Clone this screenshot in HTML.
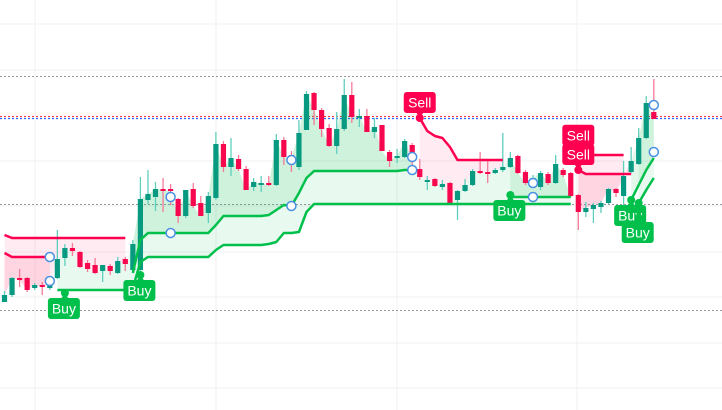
<!DOCTYPE html>
<html><head><meta charset="utf-8">
<style>
html,body{margin:0;padding:0;background:#fff;}
svg{display:block;font-family:"Liberation Sans",sans-serif;}
</style></head>
<body>
<svg id="chart" width="722" height="410" viewBox="0 0 722 410" xmlns="http://www.w3.org/2000/svg">
  <g id="grid"></g>
  <g id="fills"></g>
  <g id="candles"></g>
  <g id="lines"></g>
  <g id="markers"></g>
  <g id="signals"></g>
</svg>
<script>
// ---- data (price units) ----
const opens  = [108,115,132,132,122,125,122,132,152,162,158,147,145,139,144,137,151,140,140,210,213,221,221,211,194,221,207,197,212,266,243,251,241,223,225,227,225,270,255,243,280,317,300,282,264,281,315,293,294,278,285,258,252,253,265,241,229,231,223,227,210,219,225,239,238,237,240,243,254,238,228,223,236,227,240,237,215,198,201,203,207,221,214,238,246,272,298];
const closes = [115,132,130,120,125,123,126,151,162,159,143,141,137,145,139,149,146,166,211,216,221,220,219,194,220,204,194,214,266,243,252,241,220,228,227,225,270,253,252,277,316,300,281,264,281,315,293,294,278,283,259,249,254,269,252,233,230,224,226,207,219,225,239,237,236,240,243,252,237,227,232,237,227,246,235,214,198,202,205,207,221,217,234,249,272,307,291];
const highs  = [119,133,141,133,127,128,130,180,166,167,159,150,152,145,146,153,153,170,233,240,228,232,226,212,220,227,214,218,278,269,272,255,244,232,234,234,276,273,259,290,319,318,302,286,298,331,328,301,301,292,285,260,261,271,267,251,234,232,230,228,220,231,241,258,249,242,277,258,255,240,235,239,238,255,242,238,216,208,207,209,222,222,249,263,282,314,331];
const lows   = [108,113,123,118,120,115,120,131,144,154,142,138,136,128,135,136,139,138,138,206,199,198,205,187,192,202,194,187,210,238,234,239,220,219,218,224,224,245,238,240,280,285,273,263,256,279,287,283,278,272,259,243,247,252,245,230,220,223,220,207,190,218,224,236,227,236,238,242,236,225,224,220,225,226,233,213,180,193,187,197,206,213,205,237,245,271,291];
// supertrend (tight/upper) — green and red segments
const upperGreen = [null,null,null,null,null,null,null,null,null,null,null,null,null,null,null,null,null,137,170,177,177,177,177,177,177,177,177,177,185,194,194,194,194,194,194,195,200,205,204,217,232,239,239,239,239,239,239,239,239,239,239,239,239,240,240,null,null,null,null,null,null,null,null,null,null,null,null,213,213,213,213,213,213,213,213,213,null,null,null,null,null,null,null,210,225,240,252];
const upperRed   = [175,172,172,172,172,172,172,172,172,172,172,172,172,172,172,172,172,null,null,null,null,null,null,null,null,null,null,null,null,null,null,null,null,null,null,null,null,null,null,null,null,null,null,null,null,null,null,null,null,null,null,null,null,null,null,292,279,274,272,263,250,250,250,250,250,250,250,null,null,null,null,null,null,null,null,null,255,255,255,255,255,255,255,null,null,null,null];
// supertrend (wide/lower)
const lowerGreen = [null,null,null,null,null,null,null,120,120,120,120,120,120,120,120,120,120,122,148,153,153,153,153,153,153,153,153,153,160,165,165,165,165,165,165,166,168,177,177,178,198,206,206,206,206,206,206,206,206,206,206,206,206,206,206,206,206,206,206,206,206,206,206,206,206,206,206,206,206,206,206,206,206,206,206,206,null,null,null,null,null,null,null,null,207,220,232];
const lowerRed   = [157,153,153,153,153,153,153,null,null,null,null,null,null,null,null,null,null,null,null,null,null,null,null,null,null,null,null,null,null,null,null,null,null,null,null,null,null,null,null,null,null,null,null,null,null,null,null,null,null,null,null,null,null,null,null,null,null,null,null,null,null,null,null,null,null,null,null,null,null,null,null,null,null,null,null,null,240,236,236,236,236,236,236,236,null,null,null];
// circle markers
const markerIdx   = [6,6,22,22,38,38,54,54,70,70,86,86];
const markerPrice = [153,129,213,177,250,204,253,240,227,213,305,258];
// signals
const signalIdx   = [8,18,55,67,76,76,83,84];
const signalPrice = [117,135,292,215,255,240,210,207];
const signalType  = ["Buy","Buy","Sell","Buy","Sell","Sell","Buy","Buy"];
const signalStack = [0,0,0,0,0.3,0,0,1];
// horizontal reference lines
const refPrices = [334,206,100];
const lastPrice = 294;
const lastPrice2 = 292;

// ---- scales ----
const xScale = i => 4.5 + i*7.55;
const yScale = p => 410 - p;
const NS = "http://www.w3.org/2000/svg";
function mk(tag, attrs, parent){const e=document.createElementNS(NS,tag);for(const k in attrs)e.setAttribute(k,attrs[k]);parent.appendChild(e);return e;}

const grid = document.getElementById('grid');
[24,70,115,161,206,252,297,343,388].forEach(y=>{
  const l=mk('line',{x1:0,x2:722,y1:y,y2:y,stroke:'#f0f1f3','stroke-width':1},grid);
  
  
});
[35,216,397,577].forEach(x=>{
  const l=mk('line',{x1:x,x2:x,y1:0,y2:410,stroke:'#f0f1f3','stroke-width':1},grid);
  
  
});
refPrices.forEach(p=>{
  const l=mk('line',{x1:0,x2:722,y1:yScale(p)+0.5,y2:yScale(p)+0.5,stroke:'#9598a1','stroke-width':1,'stroke-dasharray':'2,2'},grid);
  
  
});
{
  const l=mk('line',{x1:0,x2:722,y1:yScale(lastPrice)+0.5,y2:yScale(lastPrice)+0.5,stroke:'#f23645','stroke-width':1,'stroke-dasharray':'2,2'},grid);
  
  
  const b=mk('line',{x1:0,x2:722,y1:yScale(lastPrice2)+0.5,y2:yScale(lastPrice2)+0.5,stroke:'#2962ff','stroke-width':1.3,'stroke-dasharray':'2,2'},grid);
  
  
}

// ---- fills & lines ----
const fills=document.getElementById('fills'), lines=document.getElementById('lines');
function runs(arr){const r=[];let cur=null;arr.forEach((v,i)=>{if(v==null){cur=null;return;}if(!cur){cur=[];r.push(cur);}cur.push(i);});return r;}
function drawSeries(arr,lineColor,fillColor,name){
  runs(arr).forEach(run=>{
    let pts=run.map(i=>xScale(i)+','+yScale(arr[i]));
    let back=run.slice().reverse().map(i=>xScale(i)+','+yScale(closes[i]));
    const f=mk('polygon',{points:pts.concat(back).join(' '),fill:fillColor},fills);
    
    
    const l=mk('polyline',{points:pts.join(' '),fill:'none',stroke:lineColor,'stroke-width':2.5,'stroke-linejoin':'round'},lines);
    
    
  });
}
drawSeries(lowerGreen,'#00c04b','rgba(0,192,75,0.09)','lower-uptrend');
drawSeries(upperGreen,'#00c04b','rgba(0,192,75,0.11)','upper-uptrend');
drawSeries(lowerRed,'#ff0050','rgba(255,0,80,0.09)','lower-downtrend');
drawSeries(upperRed,'#ff0050','rgba(255,0,80,0.08)','upper-downtrend');

// ---- candles ----
const cg=document.getElementById('candles');
opens.forEach((o,i)=>{
  const c=closes[i], up=c>=o, col=up?'#089981':'#f7074d', wcol=up?'#5fcfbd':'#f77a98';
  const x=xScale(i);
  const w=mk('line',{x1:x,x2:x,y1:yScale(highs[i]),y2:yScale(lows[i]),stroke:wcol,'stroke-width':1.3},cg);
  
  
  const top=yScale(Math.max(o,c)), h=Math.max(2,Math.abs(c-o));
  const r=mk('rect',{x:x-2.6,y:top,width:5.2,height:h,fill:col},cg);
  
  
});

// ---- markers ----
const mg=document.getElementById('markers');
markerIdx.forEach((idx,k)=>{
  const c=mk('circle',{cx:xScale(idx),cy:yScale(markerPrice[k]),r:4.5,fill:'#fff',stroke:'#4a90e2','stroke-width':1.5},mg);
  
  
});

// ---- signals ----
const sg=document.getElementById('signals');
signalIdx.forEach((idx,k)=>{
  const buy=signalType[k]==='Buy', col=buy?'#00c04b':'#ff0050';
  const x=xScale(idx), y=yScale(signalPrice[k]);
  const g=mk('g',{},sg);
  
  
  mk('circle',{cx:x,cy:y,r:4,fill:col},g);
  const bw=32,bh=21;
  const by= buy ? y+5+signalStack[k]*14 : y-5-bh-signalStack[k]*14;
  const bx=x-bw/2+(buy?-1:0);
  mk('polygon',{points:buy?`${x-4},${by+1} ${x+4},${by+1} ${x},${y}`:`${x-4},${by+bh-1} ${x+4},${by+bh-1} ${x},${y}`,fill:col},g);
  mk('rect',{x:bx,y:by,width:bw,height:bh,rx:3,fill:col},g);
  const t=mk('text',{x:bx+bw/2,y:by+15.5,'text-anchor':'middle','font-size':14,fill:'#fff'},g);
  t.textContent=signalType[k];
});
</script>
</body></html>
